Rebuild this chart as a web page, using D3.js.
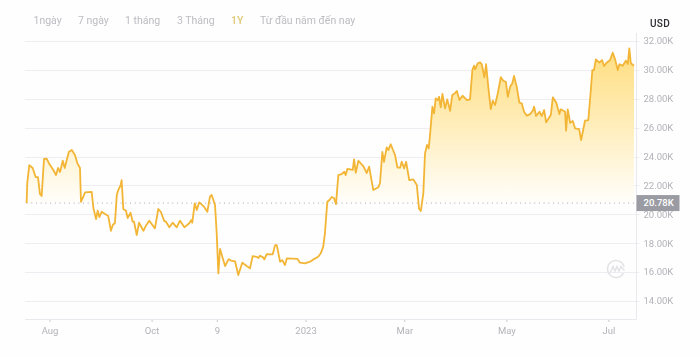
<!DOCTYPE html>
<html lang="vi">
<head>
  <meta charset="UTF-8" />
  <title>BTC 1Y</title>
  <script src="https://d3js.org/d3.v7.min.js" charset="utf-8"></script>
  <style type="text/css">
  html, body { margin: 0; padding: 0; background: #fefefe; }
  svg { display: block; font-family: Roboto, sans-serif; filter: blur(.4px); }
  .grid line { stroke: #eeedf2; stroke-width: 1; }
  .tab { font-size: 10.5px; fill: #bcbcc2; }
  .tab.on { fill: #dfca74; font-weight: 500; }
  .tick-label { font-size: 9.5px; fill: #b2b2b9; }
  </style>
</head>
<body>
<script type="text/javascript">

var tabs = ["1ngày", "7 ngày", "1 tháng", "3 Tháng", "1Y", "Từ đầu năm đến nay"];
var activeTab = "1Y";
var yTicks = [14, 16, 18, 20, 22, 24, 26, 28, 30, 32];
var xTickDates = ["2022-08-01", "2022-10-01", "2022-11-09", "2023-01-01", "2023-03-01", "2023-05-01", "2023-07-01"];
var xTickLabels = ["Aug", "Oct", "9", "2023", "Mar", "May", "Jul"];
var basePrice = 20.78;

// days since 18 Jul 2022
var days = [0,.4,1.6,3.6,5.4,6.8,8,9,10.4,12,13.6,15.6,17.6,18.8,20,21.6,22.8,24,25.3,27,28.9,30.3,31.9,32.5,33.9,34.9,36.9,38.9,39.9,41.5,
  42.5,43.5,44.9,46.9,48.8,50.4,51.5,52.8,53.9,54.8,56.2,56.8,57.8,59.4,60.4,62.1,63.4,64.2,65.8,67.2,69.8,71.2,73.3,76.7,78.7,80.2,82.3,83.3,85.3,87.3,
  89.7,91.7,94.3,97.2,98.3,99,100.5,101.7,103.2,106,108,109.6,110.6,112.6,113.6,114.6,115.6,118.6,120.8,122.2,124.6,126.5,128.9,133.5,135.1,137.5,138.6,139.5,141.1,142.1,
  143.5,147.1,148.5,149.5,151.5,152.8,154.4,155.5,161.8,163.4,166.4,169.4,171.4,174.3,175.8,177.3,178.3,179.7,181,182.4,183.7,184.9,186.3,188.3,189.9,190.7,191.7,194.9,195.7,196.7,
  198.3,201.2,203.3,204.7,207.2,210.2,211.2,212.6,213.6,215.2,216.2,217.6,220.2,221.6,223.2,224.2,225.6,226.8,228.7,231.1,233.2,234.5,235.6,237.1,238.1,239.3,240.3,241.1,242.5,243.5,
  244.5,245.7,246.5,247.5,248.5,250.1,251.4,253.1,254.4,255.8,257.1,258.7,260.5,263.2,265,266.4,267.4,268,269.6,271,272,273.6,274.6,276,277.4,278.6,280,281.6,283.4,284.9,
  286.4,287.6,289,290.3,291.3,292.9,294.5,295.9,297.3,298.9,300.9,302.5,303.3,304.5,306.5,307.9,309.3,310.5,313.3,314.5,316.5,318.4,319.2,321.8,322.4,323.4,324.8,326.4,327.8,330.2,
  331.4,333.7,335.7,337.2,338.1,339.1,340.2,342.3,343.9,345.1,346.7,348.7,350.3,351.7,353.3,354.3,356.3,358.1,359.3,360.2,361.1,363];

// price in thousand USD
var prices = [20.78,22.17,23.41,23.21,22.58,22.58,21.40,21.27,23.83,23.85,23.48,23.14,22.72,23.21,22.93,23.71,23.21,23.76,24.33,24.45,24.11,23.55,23.21,20.87,21.22,21.52,21.54,21.56,20.44,19.67,
  20.25,19.81,20.18,20.02,19.88,18.86,19.26,19.40,21.34,21.68,22.03,22.37,20.37,20.25,19.74,20.11,19.49,19.49,18.57,19.42,18.86,19.19,19.56,19.03,20.37,20.18,19.53,19.49,19.10,19.42,
  19.10,19.56,19.10,19.38,19.60,19.42,20.76,20.30,20.83,20.53,20.18,21.22,21.34,20.64,18.70,15.91,17.60,16.42,16.90,16.79,16.74,15.80,16.65,16.26,17.11,17.06,16.97,17.13,17.04,16.88,
  17.25,17.23,17.87,17.87,16.72,16.83,16.49,16.95,16.92,16.65,16.61,16.72,16.88,17.06,17.30,17.76,18.70,20.87,20.99,21.20,21.13,20.71,22.72,22.79,22.95,22.72,23.14,23.07,23.81,22.88,
  23.71,23.34,22.86,23.30,21.68,21.87,22.17,24.33,23.64,24.64,24.45,24.85,24.11,23.23,23.23,23.64,23.18,23.64,22.37,22.42,22.03,20.41,20.23,21.47,24.22,24.80,24.57,25.49,27.45,26.99,
  28.03,27.91,28.14,27.41,28.33,27.34,27.96,27.17,28.26,28.36,28.54,27.91,28.21,27.91,27.96,29.99,30.29,30.04,30.46,30.52,30.39,29.49,30.39,28.72,27.29,27.87,27.57,28.38,29.49,29.25,
  29.18,28.14,28.84,29.07,29.58,28.84,27.73,27.69,27.10,26.83,26.94,27.17,27.45,26.81,27.10,26.81,27.22,26.37,26.88,28.10,27.75,26.94,27.27,27.10,25.79,27.27,26.34,26.46,25.95,25.90,
  25.14,26.48,26.53,28.61,29.99,29.99,30.73,30.50,30.68,30.27,30.50,30.68,31.19,30.73,29.99,30.39,30.29,30.64,30.41,31.49,30.46,30.29];

var width = 700, height = 356;
var plot = {left: 25, right: 636.5, bottom: 319};
var startDate = new Date(2022, 6, 18);

var parseDay = d3.timeParse("%Y-%m-%d");

var x = d3.scaleTime()
  .domain([startDate, d3.timeDay.offset(startDate, 363)])
  .range([26.6, 634]);

var y = d3.scaleLinear()
  .domain([14, 32])
  .range([301, 41]);

var series = days.map(function(d, i) {
  return {date: new Date(startDate.getTime() + d * 864e5), price: prices[i]};
});

var svg = d3.select("body").append("svg")
  .attr("width", width)
  .attr("height", height);

var defs = svg.append("defs");

var grad = defs.append("linearGradient")
  .attr("id", "areaFill")
  .attr("gradientUnits", "userSpaceOnUse")
  .attr("x1", 0).attr("x2", 0)
  .attr("y1", y(31)).attr("y2", y(basePrice));
grad.append("stop").attr("offset", "0%").attr("stop-color", "#ffdf85");
grad.append("stop").attr("offset", "45%").attr("stop-color", "#ffedb8");
grad.append("stop").attr("offset", "100%").attr("stop-color", "#fffefb");

defs.append("clipPath").attr("id", "aboveBase")
  .append("rect")
  .attr("x", 0).attr("y", 0)
  .attr("width", width).attr("height", y(basePrice));

// tabs
var tabLeft = [33.5, 78, 125, 177, 231, 260];
svg.append("g").selectAll("text")
  .data(tabs)
  .enter().append("text")
  .attr("class", function(d) { return d == activeTab ? "tab on" : "tab"; })
  .attr("x", function(d, i) { return tabLeft[i]; })
  .attr("y", 24)
  .text(function(d) { return d; });

// gridlines
svg.append("g").attr("class", "grid").selectAll("line")
  .data(yTicks)
  .enter().append("line")
  .attr("x1", plot.left)
  .attr("x2", plot.right + 3)
  .attr("y1", function(d) { return Math.round(y(d)) + .5; })
  .attr("y2", function(d) { return Math.round(y(d)) + .5; });

// axis frame
svg.append("line")
  .attr("x1", plot.right).attr("x2", plot.right)
  .attr("y1", 33).attr("y2", plot.bottom)
  .attr("stroke", "#e8e8ed");
svg.append("line")
  .attr("x1", plot.left).attr("x2", plot.right)
  .attr("y1", plot.bottom + .5).attr("y2", plot.bottom + .5)
  .attr("stroke", "#e8e8ed");

// y labels
svg.append("g").selectAll("text")
  .data(yTicks)
  .enter().append("text")
  .attr("class", "tick-label")
  .attr("x", 643.5)
  .attr("y", function(d) { return y(d); })
  .attr("dy", ".35em")
  .text(function(d) { return d3.format(".2f")(d) + "K"; });

svg.append("text")
  .attr("x", 650).attr("y", 27)
  .attr("font-size", 10)
  .attr("font-weight", 500)
  .attr("letter-spacing", .3)
  .attr("fill", "#2c2c32")
  .text("USD");

// x ticks
var xAxis = svg.append("g").selectAll("g")
  .data(xTickDates)
  .enter().append("g")
  .attr("transform", function(d) { return "translate(" + x(parseDay(d)) + "," + plot.bottom + ")"; });
xAxis.append("line")
  .attr("y1", 1).attr("y2", 3)
  .attr("stroke", "#c9c9ce");
xAxis.append("text")
  .attr("class", "tick-label")
  .attr("y", 15)
  .attr("text-anchor", "middle")
  .text(function(d, i) { return xTickLabels[i]; });

// watermark logo
var logo = svg.append("g")
  .attr("transform", "translate(616,269)")
  .attr("fill", "none")
  .attr("stroke", "#e4e4e7")
  .attr("stroke-width", 1.6)
  .attr("stroke-linecap", "round");
logo.append("path").attr("d", d3.arc()({innerRadius: 8.5, outerRadius: 8.5, startAngle: 2.1, endAngle: 2 * Math.PI + 1.3}));
logo.append("path").attr("d", "M-5.5,3 L-3,-2.5 L-1,2 L1,-2.5 L3,2 L5,-2.5 L8,1");

// area + line
var area = d3.area()
  .x(function(d) { return x(d.date); })
  .y0(y(basePrice))
  .y1(function(d) { return y(d.price); });

var line = d3.line()
  .x(function(d) { return x(d.date); })
  .y(function(d) { return y(d.price); });

svg.append("path")
  .datum(series)
  .attr("d", area)
  .attr("fill", "url(#areaFill)")
  .attr("clip-path", "url(#aboveBase)");

// base price dotted line
svg.append("line")
  .attr("x1", x.range()[0]).attr("x2", x.range()[1])
  .attr("y1", y(basePrice)).attr("y2", y(basePrice))
  .attr("stroke", "#a9a9b0")
  .attr("stroke-dasharray", "1 3.7");

svg.append("path")
  .datum(series)
  .attr("d", line)
  .attr("fill", "none")
  .attr("stroke", "#f2b535")
  .attr("stroke-width", 1.8)
  .attr("stroke-linejoin", "round");

// current price badge
svg.append("rect")
  .attr("x", plot.right).attr("y", y(basePrice) - 8)
  .attr("width", 43).attr("height", 16)
  .attr("fill", "#9b9ca3");
svg.append("text")
  .attr("x", 643.5)
  .attr("y", y(basePrice))
  .attr("dy", ".35em")
  .attr("font-size", 9.5)
  .attr("font-weight", 500)
  .attr("fill", "#fff")
  .text(basePrice.toFixed(2) + "K");

</script>
</body>
</html>
